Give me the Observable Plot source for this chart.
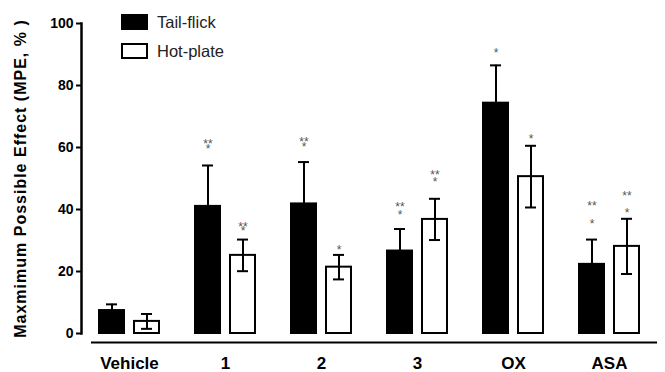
<!DOCTYPE html>
<html>
<head>
<meta charset="utf-8">
<script src="https://cdn.jsdelivr.net/npm/d3@7"></script>
<script src="https://cdn.jsdelivr.net/npm/@observablehq/plot@0.6"></script>
<style>
  html, body { margin: 0; padding: 0; background: #fff; }
  #wrap { position: relative; width: 665px; height: 372px; font-family: "Liberation Sans", Arial, sans-serif; }
  #legend { position: absolute; left: 121px; top: 14px; font-size: 16.5px; color: #222; }
  .item { display: flex; align-items: center; height: 16px; line-height: 16px; margin-bottom: 13px; }
  .sw { width: 27px; height: 16px; box-sizing: border-box; margin-right: 9px; }
  g[aria-label="y-axis label"] text { letter-spacing: 1px; font-size: 16px; }
</style>
</head>
<body>
<div id="wrap"><div id="legend"></div></div>
<script>
const groups = ["Vehicle", "1", "2", "3", "OX", "ASA"];
const series = ["Tail-flick", "Hot-plate"];
const tailFlick = [7.4, 41.0, 41.8, 26.6, 74.3, 22.3];
const tailFlickErr = [2.0, 13.2, 13.5, 7.1, 12.2, 8.0];
const hotPlate = [3.9, 25.2, 21.4, 36.8, 50.6, 28.1];
const hotPlateErr = [2.4, 5.1, 3.95, 6.65, 9.95, 8.9];
const yTicks = [0, 20, 40, 60, 80, 100];

// significance marks: one cluster per bar; "**" above "*", stacked tight / medium / loose
const starGroup   = ["1", "1", "2", "2", "3", "3", "OX", "OX", "ASA", "ASA"];
const starSeries  = ["Tail-flick", "Hot-plate", "Tail-flick", "Hot-plate", "Tail-flick", "Hot-plate", "Tail-flick", "Hot-plate", "Tail-flick", "Hot-plate"];
const starLabel   = ["**\n*", "**\n*", "**\n*", "*", "**\n*", "**\n*", "*", "*", "**\n*", "**\n*"];
const starStack   = ["tight", "tight", "tight", "single", "medium", "medium", "single", "single", "loose", "loose"];
const starValue   = [59.5, 32.9, 60.2, 26.8, 39.0, 49.5, 90.3, 62.8, 38.7, 42.2];

const rows = [];
groups.forEach((g, i) => {
  rows.push({group: g, series: "Tail-flick", value: tailFlick[i], err: tailFlickErr[i], lo: tailFlick[i], hi: tailFlick[i] + tailFlickErr[i]});
  rows.push({group: g, series: "Hot-plate", value: hotPlate[i], err: hotPlateErr[i], lo: hotPlate[i] - hotPlateErr[i], hi: hotPlate[i] + hotPlateErr[i]});
});
const stars = starLabel.map((l, i) => ({group: starGroup[i], series: starSeries[i], label: l, stack: starStack[i], y: starValue[i]}));
const fills = {"Tail-flick": "black", "Hot-plate": "white"};
const stackLineHeight = {single: 1, tight: 0.4, medium: 0.65, loose: 1.43};

const starMarks = Object.keys(stackLineHeight).map(k =>
  Plot.text(stars.filter(d => d.stack === k), {
    fx: "group", x: "series", y: "y", text: "label",
    fontSize: 12, fill: "#555", lineAnchor: "middle", lineHeight: stackLineHeight[k]
  })
);

const chart = Plot.plot({
  width: 665,
  height: 372,
  marginLeft: 80,
  marginRight: 7.5,
  marginTop: 23,
  marginBottom: 39,
  style: {fontFamily: "Liberation Sans, Arial, sans-serif", background: "white", color: "black"},
  fx: {domain: groups, padding: 0, label: null},
  x: {domain: series, paddingInner: 0.28, paddingOuter: 0.475, axis: null},
  y: {domain: [0, 100], ticks: yTicks},
  marks: [
    Plot.barY(rows, {fx: "group", x: "series", y: "value", fill: d => fills[d.series], stroke: "black", strokeWidth: 2}),
    Plot.ruleX(rows, {fx: "group", x: "series", y1: "lo", y2: "hi", stroke: "black", strokeWidth: 2}),
    Plot.tickY(rows, {fx: "group", x: "series", y: "hi", stroke: "black", strokeWidth: 2, insetLeft: 7, insetRight: 7}),
    Plot.tickY(rows.filter(d => d.series === "Hot-plate"), {fx: "group", x: "series", y: "lo", stroke: "black", strokeWidth: 2, insetLeft: 7, insetRight: 7}),
    ...starMarks,
    Plot.frame({anchor: "left", facetAnchor: "left", stroke: "black", strokeWidth: 2.5}),
    Plot.ruleY(groups.slice(0, 1), {fx: d => d, y: () => 0, dy: 9, insetLeft: 10, stroke: "black", strokeWidth: 2}),
    Plot.ruleY(groups.slice(1), {fx: d => d, y: () => 0, dy: 9, stroke: "black", strokeWidth: 2}),
    Plot.axisY({ticks: yTicks, tickSize: 5, tickPadding: 3, strokeWidth: 2, fontSize: 14, fontWeight: "bold",
      label: "Maxmimum Possible Effect (MPE, % )", labelAnchor: "center", labelArrow: "none", labelOffset: 67}),
    Plot.axisFx({anchor: "bottom", tickSize: 0, tickPadding: 23, fontSize: 17, fontWeight: "bold", label: null})
  ]
});
document.getElementById("wrap").prepend(chart);

const legend = document.getElementById("legend");
series.forEach(s => {
  const item = document.createElement("div");
  item.className = "item";
  const sw = document.createElement("div");
  sw.className = "sw";
  sw.style.background = fills[s];
  sw.style.border = "2px solid black";
  const t = document.createElement("span");
  t.textContent = s;
  item.append(sw, t);
  legend.append(item);
});
</script>
</body>
</html>
